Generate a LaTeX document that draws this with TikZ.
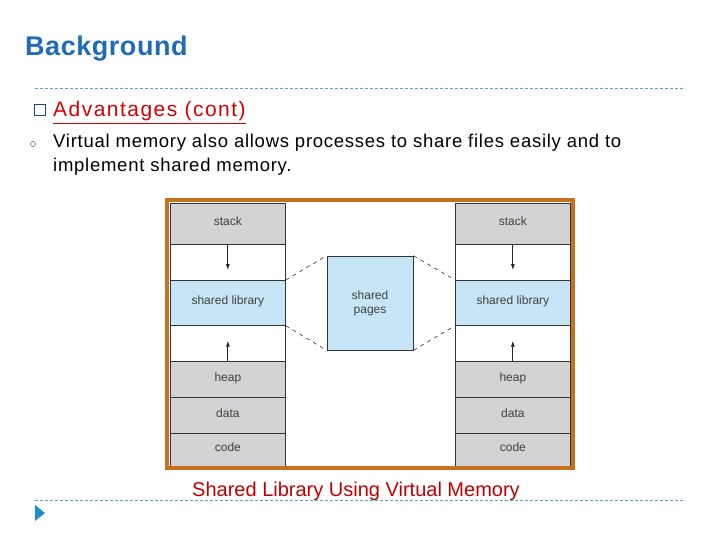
\documentclass[tikz,border=0pt]{standalone}
\usepackage{fontspec}
\setmainfont{Liberation Sans}
\newfontfamily\widesans[LetterSpace=4]{Liberation Sans}
\newfontfamily\widersans[LetterSpace=7]{Liberation Sans}
\newfontfamily\titlesans[LetterSpace=2]{Liberation Sans}
\usetikzlibrary{arrows.meta,positioning}
\definecolor{titleblue}{HTML}{1F6CB5}
\definecolor{ruleteal}{HTML}{4BACC6}
\definecolor{headred}{HTML}{D40000}
\definecolor{capred}{HTML}{C00000}
\definecolor{framebrown}{HTML}{C8701E}
\definecolor{cellgray}{HTML}{D3D3D5}
\definecolor{libblue}{HTML}{C6E6F7}
\definecolor{celltext}{HTML}{404040}
\definecolor{markblue}{HTML}{1E8FC8}

\begin{document}
\begin{tikzpicture}[x=1pt,y=-1pt,
  txt/.style={inner sep=0pt,anchor=base west},
  cell/.style={draw=black!80,line width=0.7pt,minimum width=115,anchor=north west,
    inner sep=0pt,text height=9pt,text depth=5pt,text=celltext,font=\fontsize{12}{14}\selectfont},
  pagebox/.style={draw=black!80,line width=0.7pt,fill=libblue,minimum width=86,minimum height=94,
    align=center,text=celltext,font=\fontsize{12}{14}\selectfont},
  pagelink/.style={dashed,dash pattern=on 4pt off 4pt,black!80,line width=0.6pt},
  growarrow/.style={-{Latex[length=6pt,width=4pt]},black!85,line width=0.8pt},
  slideline/.style={ruleteal,dashed,dash pattern=on 3pt off 2pt,line width=0.8pt}]
\useasboundingbox (0,0) rectangle (720,540);

% heading and text
\node[txt,font=\titlesans\fontsize{27}{30}\selectfont\bfseries,text=titleblue] (title) at (25,56) {Background};
\draw[slideline] (35,88) -- (685,88);
\node[draw=titleblue!70!black,line width=0.7pt,minimum size=11pt,inner sep=0pt] (box) at (40,110) {};
\node[txt,font=\widersans\fontsize{21}{24}\selectfont,text=headred] (adv) at (53,117) {\underline{Advantages (cont)}};
\draw[black!60,line width=0.6pt] (33,144) circle (2.6);
\node[txt,font=\widesans\fontsize{18.5}{21}\selectfont] (line1) at (53,148) {Virtual memory also allows processes to share files easily and to};
\node[txt,font=\widesans\fontsize{18.5}{21}\selectfont] (line2) at (53,172) {implement shared memory.};

% the two address spaces
\foreach \s/\xl in {L/170,R/455}{
  \foreach \n/\t/\b/\c/\lab in {stack/203/244/cellgray/stack,gapa/244/280/white/{},
      lib/280/325/libblue/shared library,gapb/325/361/white/{},
      heap/361/397/cellgray/heap,data/397/433/cellgray/data,code/433/466/cellgray/code}{
    \node[cell,fill=\c,minimum height={\b-\t}] (\s\n) at (\xl,\t) {\lab};}
  \draw[growarrow] (\s stack.south) -- ([yshift=10pt]\s lib.north);
  \draw[growarrow] (\s heap.north) -- ([yshift=-15pt]\s lib.south);
}
\node[pagebox] (pages) at (370,303) {shared\\pages};
\draw[pagelink] (Llib.north east) -- (pages.north west);
\draw[pagelink] (Llib.south east) -- (pages.south west);
\draw[pagelink] (pages.north east) -- (Rlib.north west);
\draw[pagelink] (pages.south east) -- (Rlib.south west);
\draw[framebrown,line width=4pt] (167,200) rectangle (573,468);

% caption and footer
\node[inner sep=0pt,anchor=base,font=\fontsize{20}{24}\selectfont,text=capred] (cap) at (356,496) {Shared Library Using Virtual Memory};
\draw[slideline] (35,500) -- (685,500);
\fill[markblue] (35,505) -- (45,513) -- (35,521) -- cycle;
\end{tikzpicture}
\end{document}
